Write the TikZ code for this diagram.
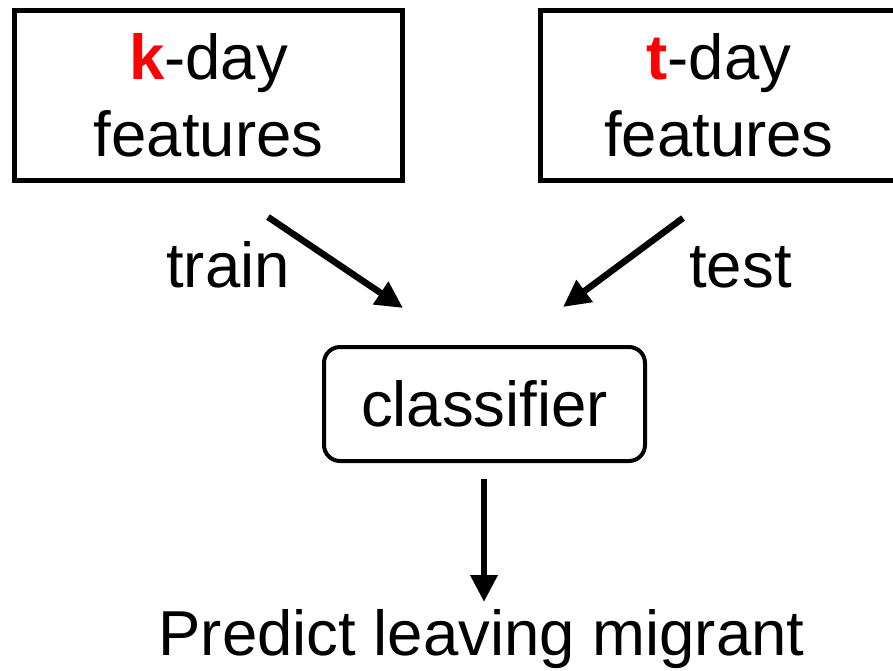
\documentclass[tikz,border=0pt]{standalone}
\usepackage{fontspec}
\setmainfont{Liberation Sans}
\usetikzlibrary{arrows.meta}

\begin{document}
\begin{tikzpicture}[x=1pt,y=-1pt]
\useasboundingbox (0,0) rectangle (893,670);
\clip (0,0) rectangle (893,670);
 \begin{scope}[every node/.style={font=\fontsize{63.5}{77}\selectfont, inner sep=0pt}]
  \node (kbox) at (208.5,95) [draw, line width=5pt, minimum width=388pt, minimum height=170pt, align=center] {\textbf{\color{red}k}-day\\features};
  \node (tbox) at (719,95) [draw, line width=5pt, minimum width=357pt, minimum height=170pt, align=center] {\textbf{\color{red}t}-day\\features};
  \node (clf) at (484.5,404) [draw, line width=4pt, rounded corners=16pt, minimum width=321pt, minimum height=114pt] {classifier};
  \node (train) at (228,287) [anchor=base] {train};
  \node (test) at (740.5,287) [anchor=base] {test};
  \node (pred) at (481.5,655) [anchor=base] {Predict leaving migrant};
 \end{scope}
  \coordinate (kout) at (268,217);
  \coordinate (kin) at (403,308);
  \coordinate (tout) at (683,218);
  \coordinate (tin) at (563,307);
  \coordinate (cout) at (484,479);
  \coordinate (pin) at (484,602);
 \begin{scope}[line width=6.5pt, -{Triangle[length=27pt, width=26pt]}]
  \path (kout) edge (kin);
  \path (tout) edge (tin);
  \path (cout) edge (pin);
 \end{scope}
\end{tikzpicture}
\end{document}
